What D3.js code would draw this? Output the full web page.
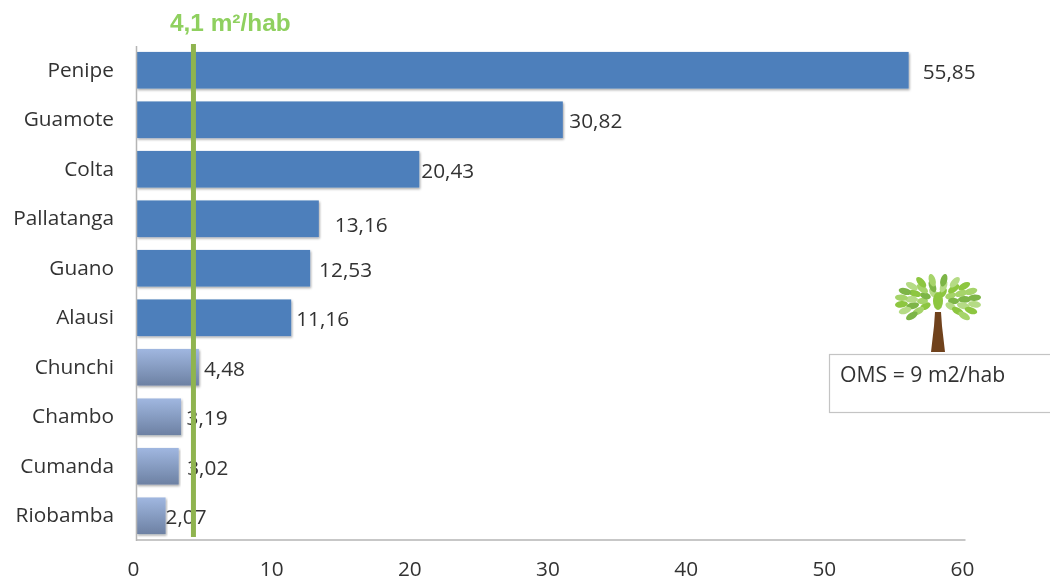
<!DOCTYPE html>
<html><head><meta charset="utf-8">
<script src="https://cdn.jsdelivr.net/npm/d3@7"></script>
<style>html,body{margin:0;background:#fff}svg{display:block}text{font-family:"Open Sans",sans-serif;fill:#333}</style>
</head><body><svg id="c" width="1050" height="583"></svg>
<script>
const categories=["Penipe","Guamote","Colta","Pallatanga","Guano","Alausi","Chunchi","Chambo","Cumanda","Riobamba"];
const values=[55.85,30.82,20.43,13.16,12.53,11.16,4.48,3.19,3.02,2.07];
const valueLabels=["55,85","30,82","20,43","13,16","12,53","11,16","4,48","3,19","3,02","2,07"];
const xTicks=[0,10,20,30,40,50,60];
const reference=4.1;
const referenceLabel="4,1 m²/hab";
const noteLabel="OMS = 9 m2/hab";
const lowThreshold=reference+1;

const svg=d3.select("#c"),defs=svg.append("defs");
const x=d3.scaleLinear().domain([0,60]).range([136,965]);
const y=d3.scaleBand().domain(categories).range([45.5,540.5]).paddingInner(0.26).paddingOuter(0.13);
const fs=20.8;

const soft=defs.append("filter").attr("id","soft").attr("x","-5%").attr("y","-5%").attr("width","110%").attr("height","110%");
soft.append("feGaussianBlur").attr("stdDeviation",0.55);
const shadow=defs.append("filter").attr("id","shadow").attr("x","-5%").attr("y","-15%").attr("width","110%").attr("height","135%");
shadow.append("feDropShadow").attr("dx",1).attr("dy",1.5).attr("stdDeviation",1.3).attr("flood-color","#000").attr("flood-opacity",0.35);
const grad=defs.append("linearGradient").attr("id","low").attr("x1",0).attr("x2",0).attr("y1",0).attr("y2",1);
grad.append("stop").attr("offset",0).attr("stop-color","#a0b7e0");
grad.append("stop").attr("offset",1).attr("stop-color","#6d81a3");

const root=svg.append("g").attr("filter","url(#soft)");

// bars
root.append("g").selectAll("rect").data(values).join("rect")
  .attr("x",x(0)+0.5).attr("y",(d,i)=>y(categories[i]))
  .attr("width",d=>x(d)-x(0)+0.5).attr("height",y.bandwidth())
  .attr("fill",d=>d<lowThreshold?"url(#low)":"#4d7fbb")
  .attr("filter","url(#shadow)");

// axes
const xAxis=d3.axisBottom(x).tickValues(xTicks).tickSize(0).tickPadding(22);
const gx=root.append("g").attr("transform","translate(0,539.5)").call(xAxis);
gx.select(".domain").attr("stroke","#b5b5b5").attr("stroke-width",1.5);
gx.selectAll("text").attr("font-size",fs).attr("dx",-3).attr("fill","#333");
const yAxis=d3.axisLeft(y).tickSize(0).tickPadding(22);
const gy=root.append("g").attr("transform","translate(136,0)").call(yAxis);
gy.select(".domain").attr("stroke","#b5b5b5").attr("stroke-width",1.5);
gy.selectAll("text").attr("font-size",fs).attr("dy","0.3em").attr("fill","#333");

// value labels (hand-placed offsets in the original)
const labelGap=[15,7.5,3,17,10,6,6,6.5,9.5,1];
const labelLift=[0,0,0,5,0,0,0,0,0,0];
root.append("g").selectAll("text").data(values).join("text")
  .attr("x",(d,i)=>x(d)+labelGap[i])
  .attr("y",(d,i)=>y(categories[i])+y.bandwidth()/2+8.5+labelLift[i])
  .attr("font-size",fs).text((d,i)=>valueLabels[i]);

// reference line
root.append("line").attr("x1",x(reference)+0.8).attr("x2",x(reference)+0.8)
  .attr("y1",44).attr("y2",537).attr("stroke","#8fb450").attr("stroke-width",5);
root.append("text").attr("x",170).attr("y",31).attr("font-size",24.4)
  .attr("font-weight",700).style("font-family","'Liberation Sans',sans-serif")
  .style("fill","#8fd05f").text(referenceLabel);

// note box
root.append("rect").attr("x",829.5).attr("y",354.5).attr("width",230).attr("height",58)
  .attr("fill","#fff").attr("stroke","#c4c4c4").attr("stroke-width",1.2);
root.append("text").attr("x",840).attr("y",382).attr("font-size",fs+0.4).text(noteLabel);

// tree
const tree=root.append("g").attr("transform","translate(938,300)");
tree.append("path").attr("d","M-3,12 L3,12 L4,26 L7,52 L-7,52 L-4,26 Z").attr("fill","#70421e");
const leafRings=[[0.42,8,5.5],[0.72,12,6.5],[1,16,6.5]];
const greens=["#8dc63f","#a6d46a","#7db547","#b5db85"];
leafRings.forEach(([r,n,len],k)=>{
  for(let i=0;i<n;i++){
    const a=Math.PI*(-1.3+1.6*(i+0.5)/n);
    const px=Math.cos(a)*r*37, py=Math.sin(a)*r*21+1;
    tree.append("ellipse").attr("rx",len).attr("ry",3.3)
      .attr("transform",`translate(${px},${py}) rotate(${Math.atan2(py,px)*180/Math.PI})`)
      .attr("fill",greens[(i+k)%4]);
  }
});
tree.append("ellipse").attr("cx",0).attr("cy",1).attr("rx",5).attr("ry",9).attr("fill","#8dc63f");
</script></body></html>
